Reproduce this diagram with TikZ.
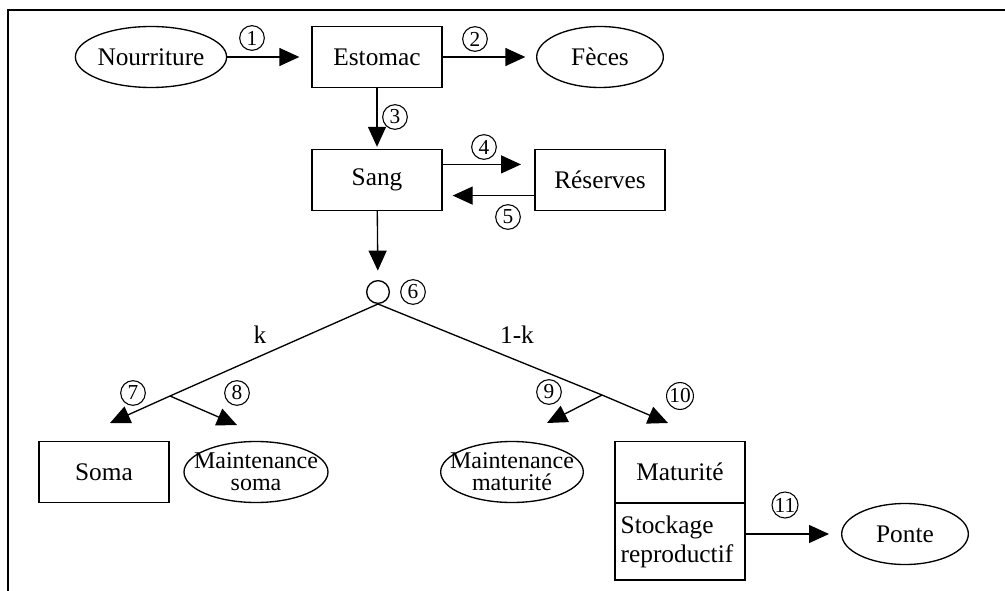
\documentclass[tikz,border=0pt]{standalone}
\usepackage{fontspec}
\setmainfont{Liberation Serif}
\usetikzlibrary{arrows.meta,positioning,calc,shapes.geometric}

\begin{document}
\begin{tikzpicture}[x=0.75pt,y=-0.75pt,
  every node/.style={font=\fontsize{19}{16}\selectfont},
  boite/.style={draw,line width=1pt,minimum width=97.5pt,minimum height=45.75pt,inner sep=0pt},
  ovale/.style={draw,line width=1pt,ellipse,minimum width=95pt,minimum height=45.75pt,inner sep=0pt},
  num/.style={circle,draw,line width=0.8pt,inner sep=0.3pt,minimum size=18.5pt,font=\fontsize{16}{16}\selectfont},
  fl/.style={-{Triangle[length=15pt,width=13.5pt]},line width=1pt}]
  \useasboundingbox (0,0) rectangle (1005,591);
  \draw[line width=1.2pt] (1005,10) -- (8,10) -- (8,591); % cadre
  \node[ovale] (nour) at (151,57) {Nourriture};
  \node[boite] (esto) at (377,57) {Estomac};
  \node[ovale] (feces) at (600,57) {Fèces};
  \node[boite] (sang) at (377,180) {Sang};
  \node[boite] (res) at (600,180) {Réserves};
  \node[circle,draw,line width=1pt,minimum size=17pt,inner sep=0pt] (split) at (378,292) {}; % partage k / 1-k
  \node[boite] (soma) at (104,472) {Soma};
  \node[ovale,minimum width=108pt,align=center,font=\fontsize{18}{16.5}\selectfont] (msoma) at (256,472) {\makebox[0pt]{Maintenance}\\\makebox[0pt]{soma}};
  \node[ovale,minimum width=107pt,align=center,font=\fontsize{18}{16.5}\selectfont] (mmat) at (512,472) {\makebox[0pt]{Maintenance}\\\makebox[0pt]{maturité}};
  \node[boite] (mat) at (680,472) {Maturité};
  \node[boite,minimum height=57.75pt,align=left,text width=89pt,inner xsep=4.25pt,font=\fontsize{19}{21.75}\selectfont] (stock) at (680,541.5) {Stockage\\reproductif};
  \node[ovale] (ponte) at (905,534) {Ponte};
  % points de branchement
  \coordinate (kb) at (170,396); \coordinate (k7) at (110,423); \coordinate (k8) at (237,425);
  \coordinate (jb) at (602,395); \coordinate (j10) at (668,423); \coordinate (j9) at (547,423);
  % fleches
  \draw[fl,shorten >=9pt] (nour) -- (esto);
  \draw[fl,shorten >=8pt] (esto) -- (feces);
  \draw[fl,shorten >=1.5pt] (esto) -- (sang);
  \draw[fl,shorten >=10pt] ($(sang.north east)!.25!(sang.south east)$) -- ($(res.north west)!.25!(res.south west)$);
  \draw[fl,shorten >=7.5pt] ($(res.north west)!.75!(res.south west)$) -- ($(sang.north east)!.75!(sang.south east)$);
  \draw[fl,shorten >=7pt] (sang) -- (split);
  \draw[fl] (split.south) -- (kb) -- (k7);
  \draw[fl] (kb) -- (k8);
  \draw[fl] (split.south) -- (jb) -- (j10);
  \draw[fl] (jb) -- (j9);
  \draw[fl,shorten >=9pt] (stock.east |- ponte) -- (ponte);
  \node (lk) at (260,335) {k};
  \node (l1k) at (517,335) {1-k};
  % numeros
  \node[num] (n1) at (252,38) {1};
  \node[num] (n2) at (475,39) {2};
  \node[num] (n3) at (395,117) {3};
  \node[num] (n4) at (484,147) {4};
  \node[num] (n5) at (508,217) {5};
  \node[num] (n6) at (413,292) {6};
  \node[num] (n7) at (133,393) {7};
  \node[num] (n8) at (237,393) {8};
  \node[num] (n9) at (549,392) {9};
  \node[num] (n10) at (680,396) {10};
  \node[num] (n11) at (785,505) {11};
\end{tikzpicture}
\end{document}
